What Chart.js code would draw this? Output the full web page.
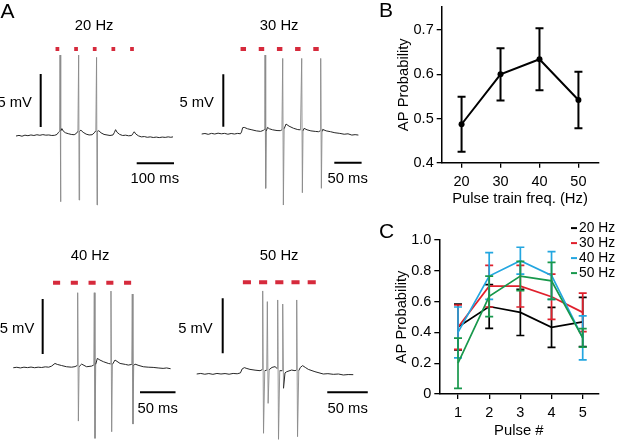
<!DOCTYPE html>
<html>
<head>
<meta charset="utf-8">
<script src="https://cdn.jsdelivr.net/npm/chart.js@4.4.0/dist/chart.umd.min.js"></script>
<style>
  body { margin: 0; background: #fff; }
  #fig { position: relative; width: 617px; height: 440px; overflow: hidden;
         font-family: "Liberation Sans", Arial, sans-serif; color: #000; }
  .cv { position: absolute; }
  .lbl { position: absolute; font-size: 14.8px; line-height: 1; white-space: nowrap; }
  .big { font-size: 21px; }
  .c { transform: translate(-50%, -50%); }
  .r { transform: translate(-100%, -50%); }
  .l { transform: translate(0, -50%); }
  .leg { position: absolute; left: 571px; font-size: 13.8px; line-height: 1; white-space: nowrap;
         transform: translateY(-50%); padding-left: 8px; }
  .mk { position: absolute; left: 0; top: 50%; margin-top: -1px; width: 6px; height: 2px; }
</style>
</head>
<body>
<div id="fig">
  <div class="cv" style="left:0;top:0;width:190px;height:215px"><canvas id="a20"></canvas></div>
  <div class="cv" style="left:190px;top:0;width:190px;height:215px"><canvas id="a30"></canvas></div>
  <div class="cv" style="left:0;top:220px;width:190px;height:220px"><canvas id="a40"></canvas></div>
  <div class="cv" style="left:190px;top:220px;width:190px;height:220px"><canvas id="a50"></canvas></div>
  <div class="cv" style="left:380px;top:0;width:237px;height:215px"><canvas id="chartB"></canvas></div>
  <div class="cv" style="left:380px;top:220px;width:237px;height:220px"><canvas id="chartC"></canvas></div>

  <div class="lbl big l" style="left:0.5px;top:9.5px">A</div>
  <div class="lbl big l" style="left:379px;top:9.2px">B</div>
  <div class="lbl big l" style="left:379px;top:230px">C</div>

  <div class="lbl c" style="left:94.2px;top:25px">20 Hz</div>
  <div class="lbl c" style="left:279.2px;top:25px">30 Hz</div>
  <div class="lbl c" style="left:90px;top:254.7px">40 Hz</div>
  <div class="lbl c" style="left:279.2px;top:254.7px">50 Hz</div>

  <div class="lbl r" style="left:32px;top:101.7px">5 mV</div>
  <div class="lbl r" style="left:214px;top:101.7px">5 mV</div>
  <div class="lbl r" style="left:34.3px;top:327.7px">5 mV</div>
  <div class="lbl r" style="left:212.7px;top:328.3px">5 mV</div>

  <div class="lbl c" style="left:154.8px;top:178.3px">100 ms</div>
  <div class="lbl c" style="left:347.7px;top:178.3px">50 ms</div>
  <div class="lbl c" style="left:157.7px;top:408.3px">50 ms</div>
  <div class="lbl c" style="left:347.7px;top:408.3px">50 ms</div>

  <div id="legendC"></div>
</div>

<script>
// ---- panel A: example traces, [time ms, membrane mV] ----
var trace20 = [
  [0,0],[8,0.06],[16,-0.02],[24,0.08],[32,0.03],[40,0.1],[48,0.05],[56,0.12],[64,0.07],[72,0.13],
  [80,0.08],[88,0.1],[96,0.05],[104,0.07],[110,0.15],[114,0.35],[117,0.45],[118,7.64],[119.2,-6.2],
  [120.5,0.5],[123,0.7],[127,0.45],[133,0.3],[140,0.22],[148,0.15],[156,0.12],[162,0.25],[166,0.45],
  [168,7.64],[169.2,-6.04],[170.5,0.45],[174,0.55],[180,0.35],[188,0.18],[196,0.1],[204,0.12],
  [210,0.3],[214,0.5],[216,7.42],[217.2,-6.5],[218.5,0.45],[222,0.5],[228,0.3],[236,0.15],[244,0.1],
  [252,0.05],[260,0.1],[264,0.35],[267,0.6],[271,0.35],[278,0.15],[286,0.05],[294,0.08],[302,0.02],
  [310,0.05],[314,0.25],[317,0.4],[321,0.2],[328,0.02],[336,-0.08],[344,-0.05],[352,-0.12],
  [360,-0.08],[368,-0.14],[376,-0.1],[384,-0.15],[392,-0.1],[400,-0.13],[408,-0.08],[415,-0.12],[421,-0.08]
];
var trace30 = [
  [0,0],[6,0.05],[12,-0.03],[18,0.06],[24,0],[30,0.08],[36,0.02],[42,0.06],[48,-0.02],[54,0.05],
  [60,0],[66,0.06],[71,0.02],[73,0.2],[75,0.6],[78,0.63],[84,0.5],[92,0.4],[100,0.3],[108,0.25],
  [113,0.35],[115.5,0.45],[116,7.52],[117.2,-5.17],[118.5,0.3],[120.5,0.63],[124,0.5],[130,0.4],
  [138,0.33],[144,0.32],[147,0.4],[148.4,7.2],[149.6,-6.76],[151,0.5],[154.5,0.95],[160,0.75],
  [168,0.55],[176,0.42],[181,0.4],[183.2,7.2],[184.4,-5.59],[185.6,0.3],[187.5,0.54],[193,0.4],
  [200,0.3],[208,0.25],[214,0.22],[217,0.3],[218,7.2],[219.2,-5.17],[220.4,0.3],[221.6,0.44],
  [228,0.3],[236,0.22],[244,0.12],[253,0.06],[261,-0.02],[268,0.02],[275,-0.1],[281,-0.06],[287,-0.1]
];
var trace40 = [
  [0,0],[5,0.04],[10,-0.02],[15,0.05],[20,0.01],[25,0.06],[30,0],[35,0.05],[40,0.02],[45,0.08],
  [50,0.05],[54,0.15],[58.7,0.39],[62,0.3],[68,0.2],[75,0.09],[82,0.05],[87,0.1],[90,0.2],
  [90.7,6.82],[91.7,-4.85],[92.7,0.1],[96.3,0.33],[103.3,0.09],[110.4,0.15],[113.4,0.25],
  [114.1,6.82],[115.1,-6.42],[116.1,0.3],[118.4,0.85],[122,0.7],[126.9,0.55],[133.9,0.39],
  [136.9,0.35],[137.6,6.97],[138.6,-5.82],[139.6,0.3],[143.3,0.7],[150.4,0.39],[158,0.3],[162,0.24],
  [166.9,0.3],[167.6,6.7],[168.6,-5.12],[169.6,0.2],[171.4,0.33],[177,0.2],[183.1,0.09],[190,0.05],
  [197,0.03],[204,-0.02],[211,-0.06],[216,-0.02],[221.6,-0.09]
];
var trace50 = [
  [0,0],[5,0.05],[10,-0.02],[15,0.04],[20,-0.03],[25,0.05],[30,0],[35,0.04],[40,-0.02],[45,0.05],
  [50,0.02],[54,0.1],[56,0.45],[58.8,0.58],[62,0.5],[65.8,0.42],[72,0.35],[78.2,0.3],[81,0.4],
  [81.5,7.55],[82.5,-5.39],[84,0.3],[86.5,0.35],[87.2,6.58],[88.2,-2.67],[89.5,0.4],[93,0.6],
  [96.7,0.67],[99.3,0.5],[100,6.73],[101,-5.94],[102.5,0.3],[105.5,0.3],[106.2,6.36],[107.2,-1.3],
  [109,0.1],[111.1,0.21],[117.2,0.36],[121.4,0.3],[122.8,0.35],[123.5,6.73],[124.5,-5.7],[126,0.3],
  [128,0.6],[130.8,0.76],[134,0.6],[137.8,0.42],[146,0.21],[156.3,0],[162,0.03],[168.7,-0.03],
  [175,0],[181,-0.09],[187,-0.05],[193.3,-0.06]
];
// light pulse onsets (ms), 10 ms each
var pulses20 = [106, 156, 206, 256, 306];
var pulses30 = [71.2, 104.5, 137.8, 171.1, 204.4];
var pulses40 = [56, 81, 106, 131, 156];
var pulses50 = [57, 77, 97, 117, 137];
const PULSE_MS = 10;
const MV_BAR = 5;

// ---- panel B ----
var freqs = [20, 30, 40, 50];
var freqProb = [0.487, 0.600, 0.634, 0.542];
var freqErr = [0.062, 0.059, 0.070, 0.064];
var probTicksB = [0.4, 0.5, 0.6, 0.7];

// ---- panel C ----
var pulseNum = [1, 2, 3, 4, 5];
var prob20 = [0.435, 0.568, 0.530, 0.433, 0.468];
var err20  = [0.149, 0.142, 0.150, 0.130, 0.160];
var prob30 = [0.434, 0.700, 0.700, 0.632, 0.530];
var err30  = [0.144, 0.135, 0.135, 0.147, 0.125];
var prob40 = [0.400, 0.766, 0.866, 0.770, 0.364];
var err40  = [0.165, 0.152, 0.087, 0.155, 0.143];
var prob50 = [0.200, 0.634, 0.766, 0.735, 0.365];
var err50  = [0.163, 0.132, 0.095, 0.120, 0.060];
var seriesNames = ['20 Hz', '30 Hz', '40 Hz', '50 Hz'];

var seriesColors = ['#000000', '#e0202c', '#23a6e0', '#18984c'];

Chart.defaults.font.family = "'Liberation Sans', Arial, sans-serif";
Chart.defaults.font.size = 14.5;
Chart.defaults.color = '#000';
Chart.defaults.animation = false;

function pairs(list) {
  return list.map(function(p) { return {x: p[0], y: p[1]}; });
}
function pts(xs, ys) {
  return xs.map(function(x, i) { return {x: x, y: ys[i]}; });
}
function fixWidth(w) {
  return function(s) { s.width = w; s.paddingTop = 0; s.paddingBottom = 0; };
}
function fixHeight(h) {
  return function(s) { s.height = h; s.paddingLeft = 0; s.paddingRight = 0; };
}

// draws mean +/- error with caps, right after each dataset so layering follows the lines
var errorBars = {
  id: 'errorBars',
  afterDatasetDraw: function(chart, args) {
    var ds = chart.data.datasets[args.index];
    if (!ds.errors) return;
    var ctx = chart.ctx, ys = chart.scales.y, cap = 4;
    ctx.save();
    ctx.strokeStyle = ds.borderColor;
    ctx.lineWidth = ds.borderWidth;
    args.meta.data.forEach(function(pt, i) {
      var v = ds.data[i].y, e = ds.errors[i];
      var top = ys.getPixelForValue(v + e), bot = ys.getPixelForValue(v - e);
      ctx.beginPath();
      ctx.moveTo(pt.x, top); ctx.lineTo(pt.x, bot);
      ctx.moveTo(pt.x - cap, top); ctx.lineTo(pt.x + cap, top);
      ctx.moveTo(pt.x - cap, bot); ctx.lineTo(pt.x + cap, bot);
      ctx.stroke();
    });
    ctx.restore();
  }
};

function tracePanel(id, trace, pulses, g) {
  var pulseData = [];
  pulses.forEach(function(t) {
    pulseData.push({x: t, y: g.pulseY}, {x: t + PULSE_MS, y: g.pulseY}, {x: t + PULSE_MS, y: null});
  });
  var bars = [
    {x: g.vBar[0], y: g.vBar[1]}, {x: g.vBar[0], y: g.vBar[1] + MV_BAR}, {x: g.vBar[0], y: null},
    {x: g.hBar[0], y: g.hBar[1]}, {x: g.hBar[0] + g.msBar, y: g.hBar[1]}
  ];
  new Chart(document.getElementById(id), {
    type: 'line',
    data: {
      datasets: [
        {
          data: pairs(trace), borderColor: '#262626', borderWidth: 1,
          // the fast spike strokes print lighter than the baseline
          segment: {
            borderColor: function(c) { return Math.abs(c.p1.parsed.y - c.p0.parsed.y) > 2 ? '#8a8a8a' : '#262626'; },
            borderWidth: function(c) { return Math.abs(c.p1.parsed.y - c.p0.parsed.y) > 2 ? 0.9 : 1; }
          }
        },
        {data: pulseData, borderColor: '#d62a3c', borderWidth: 4, borderCapStyle: 'butt'},
        {data: bars, borderColor: '#000', borderWidth: 2, borderCapStyle: 'butt'}
      ]
    },
    options: {
      responsive: true,
      maintainAspectRatio: false,
      layout: {padding: 0},
      elements: {point: {radius: 0}, line: {tension: 0}},
      plugins: {legend: {display: false}, tooltip: {enabled: false}},
      scales: {
        x: {type: 'linear', display: false, min: g.x[0], max: g.x[1]},
        y: {display: false, min: g.y[0], max: g.y[1]}
      }
    }
  });
}

tracePanel('a20', trace20, pulses20, {x: [-42.9, 466.5], y: [-7.45, 12.83], pulseY: 8.2,
  vBar: [66.2, 0.85], hBar: [323.6, -2.58], msBar: 100});
tracePanel('a30', trace30, pulses30, {x: [-21.4, 326.6], y: [-7.71, 12.76], pulseY: 8.1,
  vBar: [39.6, 0.7], hBar: [242.9, -2.73], msBar: 50});
tracePanel('a40', trace40, pulses40, {x: [-18.7, 248.9], y: [-6.57, 13.43], pulseY: 7.73,
  vBar: [41.4, 1.25], hBar: [178.5, -2.24], msBar: 50});
tracePanel('a50', trace50, pulses50, {x: [-8.27, 226.3], y: [-6, 14], pulseY: 8.33,
  vBar: [32.1, 1.88], hBar: [161.2, -1.66], msBar: 50});

var axisGrid = {drawOnChartArea: false, drawTicks: true, tickLength: 5, color: '#000', lineWidth: 1.3};
var axisBorder = {display: true, color: '#000', width: 1.5};
var titleFont = {size: 14.8};

// Panel B
new Chart(document.getElementById('chartB'), {
  type: 'line',
  data: {
    datasets: [{
      data: pts(freqs, freqProb),
      errors: freqErr,
      borderColor: '#000',
      backgroundColor: '#000',
      borderWidth: 2,
      pointRadius: 3,
      pointBorderWidth: 0
    }]
  },
  options: {
    responsive: true,
    maintainAspectRatio: false,
    layout: {padding: {left: 10.6, right: 18.7, top: 6.7, bottom: 3}},
    elements: {line: {tension: 0}},
    plugins: {legend: {display: false}, tooltip: {enabled: false}},
    scales: {
      x: {
        type: 'linear', min: 14.9, max: 55.1,
        afterFit: fixHeight(49.3),
        ticks: {stepSize: 10, includeBounds: false, padding: 6},
        grid: axisGrid, border: axisBorder,
        title: {display: true, text: 'Pulse train freq. (Hz)', font: titleFont, padding: {top: 0, bottom: 4}}
      },
      y: {
        min: 0.4, max: 0.753,
        afterFit: fixWidth(51.1),
        afterBuildTicks: function(s) { s.ticks = probTicksB.map(function(v) { return {value: v}; }); },
        ticks: {padding: 3, callback: function(v) { return v.toFixed(1); }},
        grid: axisGrid, border: axisBorder,
        title: {display: true, text: 'AP Probability', font: titleFont, padding: {top: 4, bottom: 4}}
      }
    }
  },
  plugins: [errorBars]
});

// Panel C
var probBySeries = [prob20, prob30, prob40, prob50];
var errBySeries = [err20, err30, err40, err50];
new Chart(document.getElementById('chartC'), {
  type: 'line',
  data: {
    datasets: seriesNames.map(function(name, i) {
      return {
        label: name,
        data: pts(pulseNum, probBySeries[i]),
        errors: errBySeries[i],
        borderColor: seriesColors[i],
        borderWidth: 1.7,
        pointRadius: 0,
        order: seriesNames.length - i
      };
    })
  },
  options: {
    responsive: true,
    maintainAspectRatio: false,
    layout: {padding: {left: 9, right: 18.7, top: 20, bottom: 0}},
    elements: {line: {tension: 0}},
    plugins: {legend: {display: false}, tooltip: {enabled: false}},
    scales: {
      x: {
        type: 'linear', min: 0.4, max: 5.5,
        afterFit: fixHeight(46),
        ticks: {stepSize: 1, includeBounds: false, padding: 5},
        grid: axisGrid, border: axisBorder,
        title: {display: true, text: 'Pulse #', font: titleFont, padding: {top: 0, bottom: 0}}
      },
      y: {
        min: 0, max: 1,
        afterFit: fixWidth(50.3),
        ticks: {stepSize: 0.2, padding: 3, callback: function(v) { return v === 0 ? '0' : v.toFixed(1); }},
        grid: axisGrid, border: axisBorder,
        title: {display: true, text: 'AP Probability', font: titleFont, padding: {top: 4, bottom: 4}}
      }
    }
  },
  plugins: [errorBars]
});

// legend for C
var legendBox = document.getElementById('legendC');
seriesNames.forEach(function(name, i) {
  var row = document.createElement('div');
  row.className = 'leg';
  row.style.top = (228.3 + i * 14.8) + 'px';
  row.innerHTML = '<span class="mk" style="background:' + seriesColors[i] + '"></span>' + name;
  legendBox.appendChild(row);
});
</script>
</body>
</html>
